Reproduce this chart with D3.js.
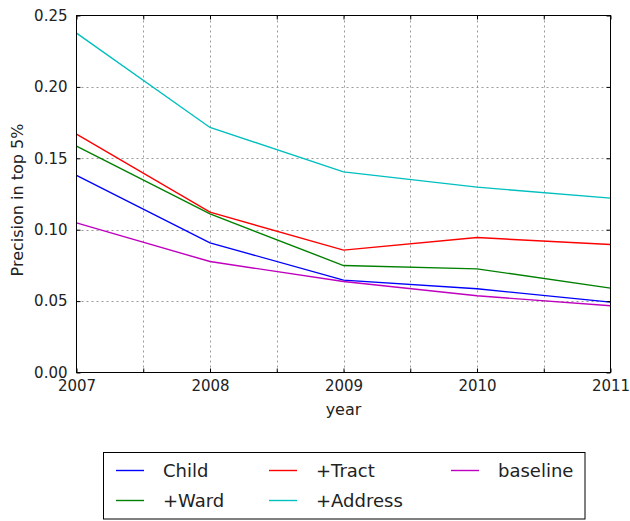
<!DOCTYPE html>
<html><head><meta charset="utf-8">
<script src="https://cdn.jsdelivr.net/npm/d3@7"></script>
<style>body{margin:0;background:#fff;} svg{display:block;font-family:"DejaVu Sans",sans-serif;}</style>
</head><body>
<svg id="c" width="630" height="521"></svg>
<script>
const years = [2007, 2008, 2009, 2010, 2011];
const seriesNames = ["Child", "+Ward", "+Tract", "+Address", "baseline"];
const seriesColors = ["#0000ff", "#008000", "#ff0000", "#00bfbf", "#bf00bf"];
const childVals    = [0.138, 0.0908, 0.0647, 0.0586, 0.0493];
const wardVals     = [0.1585, 0.1111, 0.0749, 0.0726, 0.0591];
const tractVals    = [0.1669, 0.1123, 0.0857, 0.0945, 0.0896];
const addressVals  = [0.2377, 0.1716, 0.1405, 0.1298, 0.1221];
const baselineVals = [0.1048, 0.0777, 0.0637, 0.0537, 0.0467];
const yTicks = [0, 0.05, 0.10, 0.15, 0.20, 0.25];
const xTicks = [2007, 2007.5, 2008, 2008.5, 2009, 2009.5, 2010, 2010.5, 2011];
const allVals = [childVals, wardVals, tractVals, addressVals, baselineVals];

const svg = d3.select("#c");
const L = 76.5, R = 610.5, T = 15.5, B = 372.5;
const x = d3.scaleLinear().domain([2007, 2011]).range([L, R]);
const y = d3.scaleLinear().domain([0, 0.25]).range([B, T]);

// grid
const g = svg.append("g");
g.selectAll("line.gx").data(xTicks.slice(1, -1)).join("line")
  .attr("x1", d => Math.round(x(d)) + 0.5).attr("x2", d => Math.round(x(d)) + 0.5)
  .attr("y1", T).attr("y2", B)
  .attr("stroke", "#9a9a9a").attr("stroke-width", 1).attr("stroke-dasharray", "2,3");
g.selectAll("line.gy").data(yTicks.slice(1, -1)).join("line")
  .attr("y1", d => Math.round(y(d)) + 0.5).attr("y2", d => Math.round(y(d)) + 0.5)
  .attr("x1", L).attr("x2", R)
  .attr("stroke", "#9a9a9a").attr("stroke-width", 1).attr("stroke-dasharray", "2,3");

// lines
const line = d3.line().x((d, i) => x(years[i])).y(d => y(d));
allVals.forEach((vals, i) => {
  svg.append("path").datum(vals).attr("d", line)
    .attr("fill", "none").attr("stroke", seriesColors[i]).attr("stroke-width", 1.4);
});

// frame
svg.append("rect").attr("x", L).attr("y", T).attr("width", R - L).attr("height", B - T)
  .attr("fill", "none").attr("stroke", "#000").attr("stroke-width", 1);

// axes (inward ticks)
const xAxisB = d3.axisBottom(x).tickValues(xTicks).tickSizeInner(-4).tickSizeOuter(0)
  .tickFormat(d => Number.isInteger(d) ? String(d) : "").tickPadding(8);
const gxb = svg.append("g").attr("transform", `translate(0,${B})`).call(xAxisB);
const xAxisT = d3.axisTop(x).tickValues(xTicks).tickSizeInner(-4).tickSizeOuter(0).tickFormat("");
const gxt = svg.append("g").attr("transform", `translate(0,${T})`).call(xAxisT);
const yAxisL = d3.axisLeft(y).tickValues(yTicks).tickSizeInner(-4).tickSizeOuter(0)
  .tickFormat(d3.format(".2f")).tickPadding(9);
const gyl = svg.append("g").attr("transform", `translate(${L},0)`).call(yAxisL);
const yAxisR = d3.axisRight(y).tickValues(yTicks).tickSizeInner(-4).tickSizeOuter(0).tickFormat("");
const gyr = svg.append("g").attr("transform", `translate(${R},0)`).call(yAxisR);
[gxb, gxt, gyl, gyr].forEach(a => {
  a.select(".domain").remove();
  a.selectAll(".tick line").attr("stroke", "#000");
  a.selectAll("text").attr("font-family", "DejaVu Sans").attr("font-size", 15).attr("fill", "#222");
});

// axis labels
svg.append("text").attr("x", 343.5).attr("y", 415).attr("text-anchor", "middle")
  .attr("font-size", 16).attr("fill", "#222").text("year");
svg.append("text").attr("transform", "translate(23,200) rotate(-90)").attr("text-anchor", "middle")
  .attr("font-size", 16).attr("fill", "#222").text("Precision in top 5%");

// legend
const lg = svg.append("g");
lg.append("rect").attr("x", 103.5).attr("y", 452.5).attr("width", 481.5).attr("height", 66.5)
  .attr("fill", "#fff").attr("stroke", "#000").attr("stroke-width", 1);
const legendOrder = [0, 1, 2, 3, 4];
const colX = [116, 269, 451];
const rowY = [470.5, 500.5];
legendOrder.forEach((si, k) => {
  const col = Math.floor(k / 2), row = k % 2;
  lg.append("line").attr("x1", colX[col]).attr("x2", colX[col] + 28)
    .attr("y1", rowY[row]).attr("y2", rowY[row])
    .attr("stroke", seriesColors[si]).attr("stroke-width", 1.4);
  lg.append("text").attr("x", colX[col] + 47).attr("y", rowY[row]).attr("dy", "0.36em")
    .attr("font-size", 18).attr("fill", "#222").text(seriesNames[si]);
});
</script>
</body></html>
